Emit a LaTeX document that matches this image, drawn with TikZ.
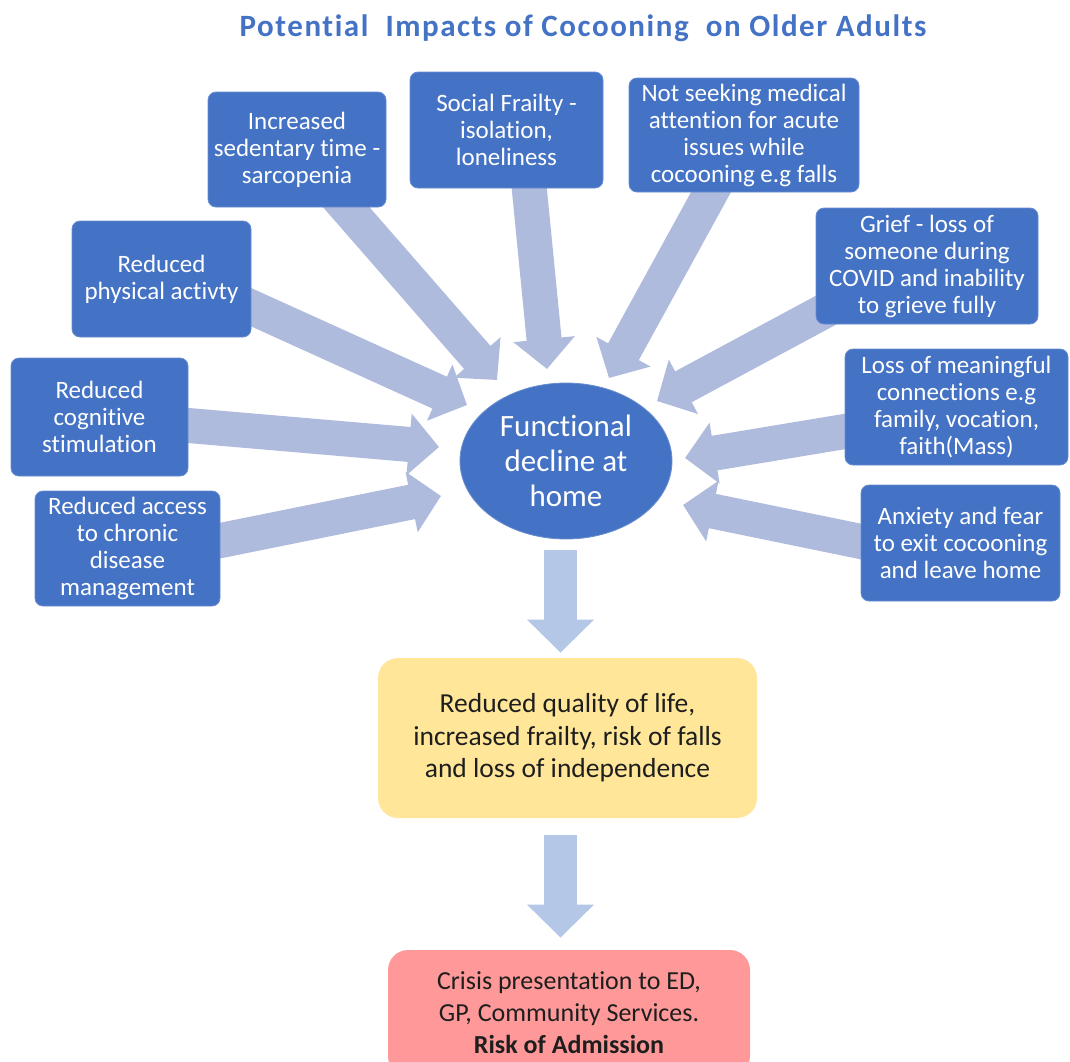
\documentclass[tikz,border=0pt]{standalone}
\usepackage{fontspec}
\setmainfont{Carlito}[Ligatures={NoCommon,NoContextual}, Contextuals=NoAlternate]
\usetikzlibrary{arrows.meta,backgrounds,shapes.geometric}
\definecolor{boxblue}{HTML}{4472C4}
\definecolor{pushblue}{HTML}{AFBBDD}
\definecolor{dropblue}{HTML}{B4C7E7}
\definecolor{qualyellow}{HTML}{FFE699}
\definecolor{crisisred}{HTML}{FF9999}
\definecolor{inkgrey}{HTML}{1E1E1E}
\tikzset{%
  cause/.style   = {shape=rectangle, rounded corners=8pt,%
                    fill=boxblue, draw=boxblue!80!white, line width=0.8pt,%
                    align=center, inner sep=0pt, text=white,%
                    font=\fontsize{25}{27}\selectfont},%
  hub/.style     = {cause, shape=ellipse, font=\fontsize{31}{35}\selectfont},%
  outcome/.style = {cause, rounded corners=20pt, draw=none, fill=qualyellow,%
                    text=inkgrey, font=\fontsize{27.5}{32.5}\selectfont},%
  push/.style    = {draw=pushblue, line width=35pt,%
                    -{Triangle[length=30pt,width=60pt]}},%
  drop/.style    = {draw=dropblue, line width=33pt,%
                    -{Triangle[length=33pt,width=65pt]}}%
}
\begin{document}
\begin{tikzpicture}
  [x=1pt,y=-1pt]
  \useasboundingbox (0,0) rectangle (1070,1061);
  \node[font=\bfseries\fontsize{31}{36}\selectfont\addfontfeatures{LetterSpace=5},
        text=boxblue] (title) at (583,28)
    {Potential\ \ Impacts of Cocooning\ \ on Older Adults};
  % causes, left side
  \node[cause, minimum width=178pt, minimum height=115pt] (sed) at (297,149.5)
    {Increased\\sedentary time -\\sarcopenia};
  \node[cause, minimum width=179pt, minimum height=116pt] (phys) at (161.5,279)
    {Reduced\\physical activty};
  \node[cause, minimum width=177pt, minimum height=118pt] (cog) at (99.5,417)
    {Reduced\\cognitive\\stimulation};
  \node[cause, minimum width=185pt, minimum height=115pt] (chron) at (127.5,548.5)
    {Reduced access\\to chronic\\disease\\management};
  % causes, top and right side
  \node[cause, minimum width=193pt, minimum height=116pt] (soc) at (506.5,130)
    {Social Frailty -\\isolation,\\loneliness};
  \node[cause, minimum width=230pt, minimum height=114pt] (noseek) at (744,135)
    {Not seeking medical\\attention for acute\\issues while\\cocooning e.g falls};
  \node[cause, minimum width=222pt, minimum height=116pt] (grief) at (927,266)
    {Grief - loss of\\someone during\\COVID and inability\\to grieve fully};
  \node[cause, minimum width=223pt, minimum height=116pt] (loss) at (956.5,407)
    {Loss of meaningful\\connections e.g\\family, vocation,\\faith(Mass)};
  \node[cause, minimum width=199pt, minimum height=116pt] (anx) at (960.5,543)
    {Anxiety and fear\\to exit cocooning\\and leave home};
  % centre and consequences
  \node[hub, minimum width=212pt, minimum height=156pt] (decline) at (566,461)
    {Functional\\decline at\\home};
  \node[outcome, minimum width=379pt, minimum height=160pt] (qual) at (567.5,738)
    {Reduced quality of life,\\increased frailty, risk of falls\\and loss of independence};
  \node[outcome, fill=crisisred, font=\fontsize{26}{32}\selectfont,
        minimum width=362pt, minimum height=126pt] (crisis) at (569,1013)
    {Crisis presentation to ED,\\GP, Community Services.\\\textbf{Risk of Admission}};
  \coordinate (tipsed)    at (497,380);
  \coordinate (tipphys)   at (467,405);
  \coordinate (tipcog)    at (439,447);
  \coordinate (tipchron)  at (441,496);
  \coordinate (tipsoc)    at (547,369);
  \coordinate (tipnoseek) at (609,378);
  \coordinate (tipgrief)  at (657,401);
  \coordinate (tiploss)   at (685,458);
  \coordinate (tipanx)    at (683,505);
  \begin{scope}[on background layer]
    \fill[white] (0,0) rectangle (1070,1061);
    \draw[push] ([shift={(32,-20)}]sed.south) -- (tipsed);
    \draw[push] ([shift={(-25,17)}]phys.east) -- (tipphys);
    \draw[push] ([shift={(-29,6)}]cog.east) -- (tipcog);
    \draw[push] ([shift={(-27,-2.5)}]chron.east) -- (tipchron);
    \draw[push] ([shift={(20,-28)}]soc.south) -- (tipsoc);
    \draw[push] ([shift={(-20,-24)}]noseek.south) -- (tipnoseek);
    \draw[push] ([shift={(33,32)}]grief.west) -- (tipgrief);
    \draw[push] ([shift={(27,20)}]loss.west) -- (tiploss);
    \draw[push] ([shift={(27,4)}]anx.west) -- (tipanx);
%    \draw[drop] (decline) -- (qual);
    \draw[drop] ([shift={(-5.5,11)}]decline.south) -- ([shift={(-7,-5)}]qual.north);
    \draw[drop] ([shift={(-7,17)}]qual.south) -- ([shift={(-8.5,-12)}]crisis.north);
  \end{scope}
\end{tikzpicture}
\end{document}
